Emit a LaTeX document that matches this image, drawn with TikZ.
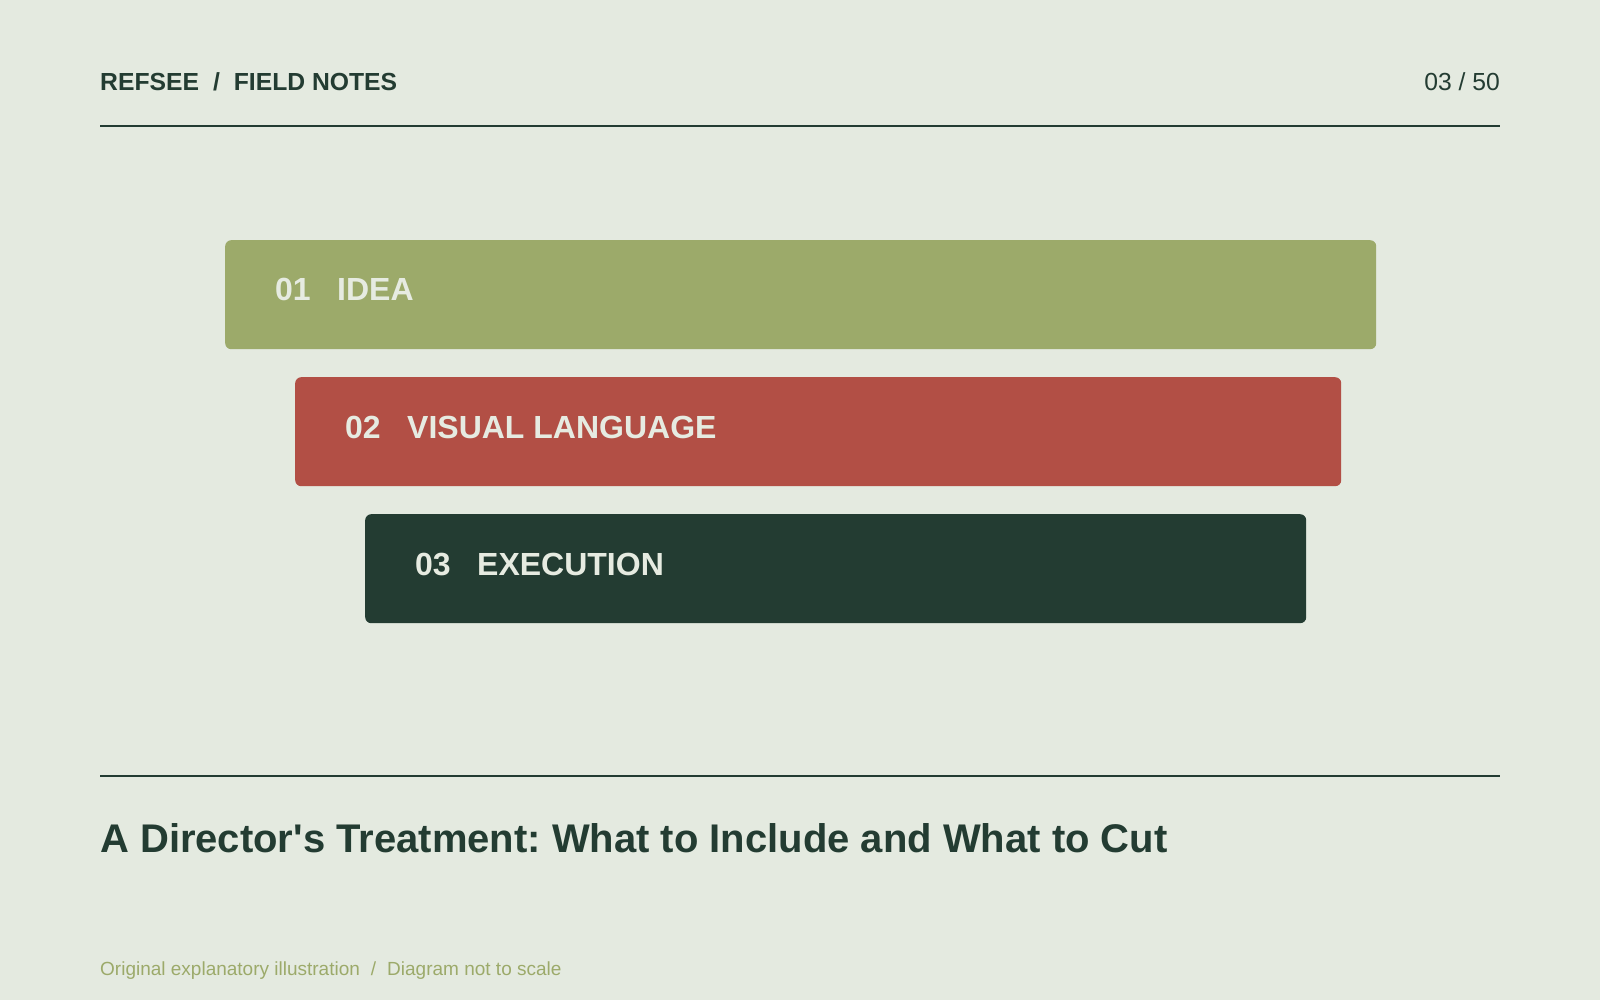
\documentclass[tikz,border=0pt]{standalone}
\usepackage{fontspec}
\setmainfont{Liberation Sans}
\usetikzlibrary{positioning}
\definecolor{paper}{HTML}{E4EAE0}
\definecolor{ink}{HTML}{233C32}
\definecolor{olive}{HTML}{9CAA6A}
\definecolor{brick}{HTML}{B24F45}
\definecolor{pale}{HTML}{E6EBE1}
\tikzset{
  stagebox/.style={rounded corners=6pt, inner sep=0pt, minimum height=109pt, anchor=north west},
  stagetext/.style={font=\bfseries\fontsize{32}{38}\selectfont, text=pale, inner sep=0pt, anchor=base west},
  plain/.style={inner sep=0pt, text=ink},
  rule/.style={draw=ink, line width=2pt}
}
\frenchspacing
\begin{document}
\begin{tikzpicture}[x=1pt,y=-1pt]
\fill[paper] (0,0) rectangle (1600,1000);
\useasboundingbox (0,0) rectangle (1600,1000);
% header
\node[plain, anchor=base west, font=\bfseries\fontsize{24.7}{30}\selectfont] (brand) at (100,91) {REFSEE\hspace{14pt}/\hspace{14pt}FIELD NOTES};
\node[plain, anchor=base east, font=\fontsize{24.7}{30}\selectfont] (page) at (1500,91) {03 / 50};
\draw[rule] (100,126) -- (1500,126);
% stages
\foreach \num/\name/\col/\l/\r/\t in {01/IDEA/olive/225/1376/240, 02/VISUAL LANGUAGE/brick/295/1341/377, 03/EXECUTION/ink/365/1306/514} {
  \node[stagebox, fill=\col, minimum width={(\r-\l)*1pt}] (box\num) at (\l,\t) {};
  \node[stagetext] (num\num) at ([shift={(50,61)}]box\num.north west) {\num};
  \node[stagetext] (name\num) at ([xshift=62pt]num\num.base west) {\name};
}
% footer
\draw[rule] (100,776) -- (1500,776);
\node[plain, anchor=base west, font=\bfseries\fontsize{40}{48}\selectfont] (title) at (100,852) {A Director\textquotesingle s Treatment: What to Include and What to Cut};
\node[plain, anchor=base west, text=olive, font=\fontsize{19}{23}\selectfont] (note) at (100,975) {Original explanatory illustration\hspace{11pt}/\hspace{11pt}Diagram not to scale};
\end{tikzpicture}
\end{document}
